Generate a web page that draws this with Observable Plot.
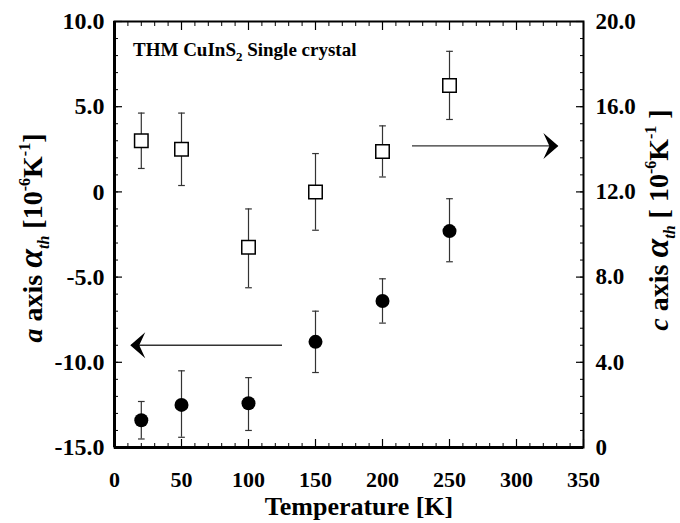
<!DOCTYPE html>
<html>
<head>
<meta charset="utf-8">
<script src="https://cdn.jsdelivr.net/npm/d3@7"></script>
<script src="https://cdn.jsdelivr.net/npm/@observablehq/plot@0.6"></script>
<style>
  html, body { margin: 0; padding: 0; background: #fff; }
  svg { display: block; }
  svg text { font-family: "Liberation Serif", "Times New Roman", serif !important; font-weight: bold; }
</style>
</head>
<body>
<div id="chart"></div>
<script>
// ---- data ----
const temps = [20, 50, 100, 150, 200, 250];

// a axis (filled circles, left scale)
const aAxis    = [-13.4, -12.5, -12.4, -8.8, -6.4, -2.3];
const aErrLow  = [-14.5, -14.4, -14.0, -10.6, -7.7, -4.1];
const aErrHigh = [-12.3, -10.5, -10.9, -7.0, -5.1, -0.4];

// c axis (open squares, right scale)
const cAxis    = [14.4, 14.0, 9.4, 12.0, 13.9, 17.0];
const cErrLow  = [13.1, 12.3, 7.5, 10.2, 12.7, 15.4];
const cErrHigh = [15.7, 15.7, 11.2, 13.8, 15.1, 18.6];

// axes
const xTicks = [0, 50, 100, 150, 200, 250, 300, 350];
const xMinorTicks = d3.range(0, 351, 10);
const leftTicks = [-15, -10, -5, 0, 5, 10];
const leftLabels = ["-15.0", "-10.0", "-5.0", "0", "5.0", "10.0"];
const leftMinorTicks = d3.range(-15, 10.01, 1);
const rightTicksC = [0, 4, 8, 12, 16, 20];
const rightLabels = ["0", "4.0", "8.0", "12.0", "16.0", "20.0"];

// direction arrows (annotation): start T, tip T, level on left scale
const arrowFrom = [222, 125];
const arrowTo = [330.5, 12.5];
const arrowLevel = [2.7, -9.0];
const arrowRotation = [0, 180];

// ---- build ----
const toA = c => c * 1.25 - 15; // right scale (0..20) onto left scale (-15..10)
const aRows = temps.map((t, i) => ({t, v: aAxis[i], lo: aErrLow[i], hi: aErrHigh[i]}));
const cRows = temps.map((t, i) => ({t, v: toA(cAxis[i]), lo: toA(cErrLow[i]), hi: toA(cErrHigh[i])}));
const arrows = arrowFrom.map((x1, i) => ({x1, x2: arrowTo[i], y: arrowLevel[i], rot: arrowRotation[i]}));
const rightTicks = rightTicksC.map(toA);

const arrowHead = {
  draw(context) {
    context.moveTo(1, 0);
    context.lineTo(-14, -13);
    context.lineTo(-8, 0);
    context.lineTo(-14, 13);
    context.closePath();
  }
};

const capHalf = 2.5;
const errMarks = (rows, stroke) => [
  Plot.ruleX(rows, {x: "t", y1: "lo", y2: "hi", stroke, strokeWidth: 1.2}),
  Plot.link(rows, {x1: d => d.t - capHalf, x2: d => d.t + capHalf, y1: "lo", y2: "lo", stroke, strokeWidth: 1.2}),
  Plot.link(rows, {x1: d => d.t - capHalf, x2: d => d.t + capHalf, y1: "hi", y2: "hi", stroke, strokeWidth: 1.2})
];

const serif = "Liberation Serif";

const chart = Plot.plot({
  width: 680,
  height: 523,
  marginLeft: 114,
  marginRight: 97,
  marginTop: 21,
  marginBottom: 76,
  style: {color: "black", background: "white"},
  x: {domain: [0, 350]},
  y: {domain: [-15, 10]},
  marks: [
    // axes
    Plot.axisX({anchor: "bottom", ticks: xMinorTicks, tickSize: -4, text: null, label: null, strokeWidth: 1}),
    Plot.axisX({anchor: "bottom", ticks: xTicks, tickSize: -8, tickPadding: 32, tickFormat: d => String(d), fontSize: 22, fontFamily: serif, fontWeight: "bold", label: null, strokeWidth: 1.2}),
    Plot.axisX({anchor: "top", ticks: xMinorTicks, tickSize: -4, text: null, label: null, strokeWidth: 1}),
    Plot.axisX({anchor: "top", ticks: xTicks, tickSize: -8, text: null, label: null, strokeWidth: 1.2}),
    Plot.axisY({anchor: "left", ticks: leftMinorTicks, tickSize: -4, text: null, label: null, strokeWidth: 1}),
    Plot.axisY({anchor: "left", ticks: leftTicks, tickSize: -8, tickPadding: 18, tickFormat: d => leftLabels[leftTicks.indexOf(d)], fontSize: 24, fontFamily: serif, fontWeight: "bold", label: null, strokeWidth: 1.2}),
    Plot.axisY({anchor: "right", ticks: leftMinorTicks, tickSize: -4, text: null, label: null, strokeWidth: 1}),
    Plot.axisY({anchor: "right", ticks: rightTicks, tickSize: -8, tickPadding: 20, tickFormat: d => rightLabels[rightTicks.indexOf(d)], fontSize: 23, fontFamily: serif, fontWeight: "bold", label: null, strokeWidth: 1.2}),
    Plot.frame({stroke: "black", strokeWidth: 2}),
    Plot.ruleX([0], {stroke: "black", strokeWidth: 3}),
    Plot.ruleY([-15], {stroke: "black", strokeWidth: 3}),
    // arrows
    Plot.link(arrows, {x1: "x1", x2: "x2", y1: "y", y2: "y", stroke: "#333", strokeWidth: 1.3}),
    Plot.dot(arrows, {x: "x2", y: "y", symbol: arrowHead, rotate: "rot", fill: "black", stroke: "none"}),
    // c axis: open squares
    ...errMarks(cRows, "#333"),
    Plot.dot(cRows, {x: "t", y: "v", symbol: "square", r: 7.6, fill: "white", stroke: "black", strokeWidth: 1.5}),
    // a axis: filled circles
    ...errMarks(aRows, "#333"),
    Plot.dot(aRows, {x: "t", y: "v", r: 7, fill: "black", stroke: "none"})
  ]
});

document.getElementById("chart").appendChild(chart);

// ---- text with sub/superscripts ----
const svg = d3.select(chart);

function addRich(g, parts) {
  parts.forEach(p => {
    const ts = g.append("tspan").text(p.t);
    if (p.italic) ts.attr("font-style", "italic");
    if (p.size) ts.attr("font-size", p.size);
    if (p.dy) ts.attr("dy", p.dy);
  });
}

// inside title
const title = svg.append("text")
  .attr("x", 133).attr("y", 56)
  .attr("text-anchor", "start")
  .attr("font-size", 19)
  .attr("fill", "black");
addRich(title, [
  {t: "THM CuInS"},
  {t: "2", size: 13, dy: 5},
  {t: " Single crystal", dy: -5}
]);

// x label
svg.append("text")
  .attr("x", 359).attr("y", 515)
  .attr("text-anchor", "middle")
  .attr("font-size", 26)
  .attr("fill", "black")
  .text("Temperature [K]");

function yLabel(x, y, letter, bracketOpen, bracketClose) {
  const g = svg.append("text")
    .attr("transform", `translate(${x},${y}) rotate(-90)`)
    .attr("text-anchor", "middle")
    .attr("font-size", 28)
    .attr("fill", "black");
  addRich(g, [
    {t: letter, italic: true},
    {t: " axis "},
    {t: "α", italic: true, size: 34},
    {t: "th", italic: true, size: 16, dy: 7},
    {t: " " + bracketOpen + "10", dy: -7},
    {t: "-6", size: 16, dy: -12},
    {t: "K", dy: 12},
    {t: "-1", size: 16, dy: -12},
    {t: bracketClose, dy: 12}
  ]);
}
yLabel(42, 238, "a", "[", "]");
yLabel(668, 220, "c", "[ ", " ]");
</script>
</body>
</html>
